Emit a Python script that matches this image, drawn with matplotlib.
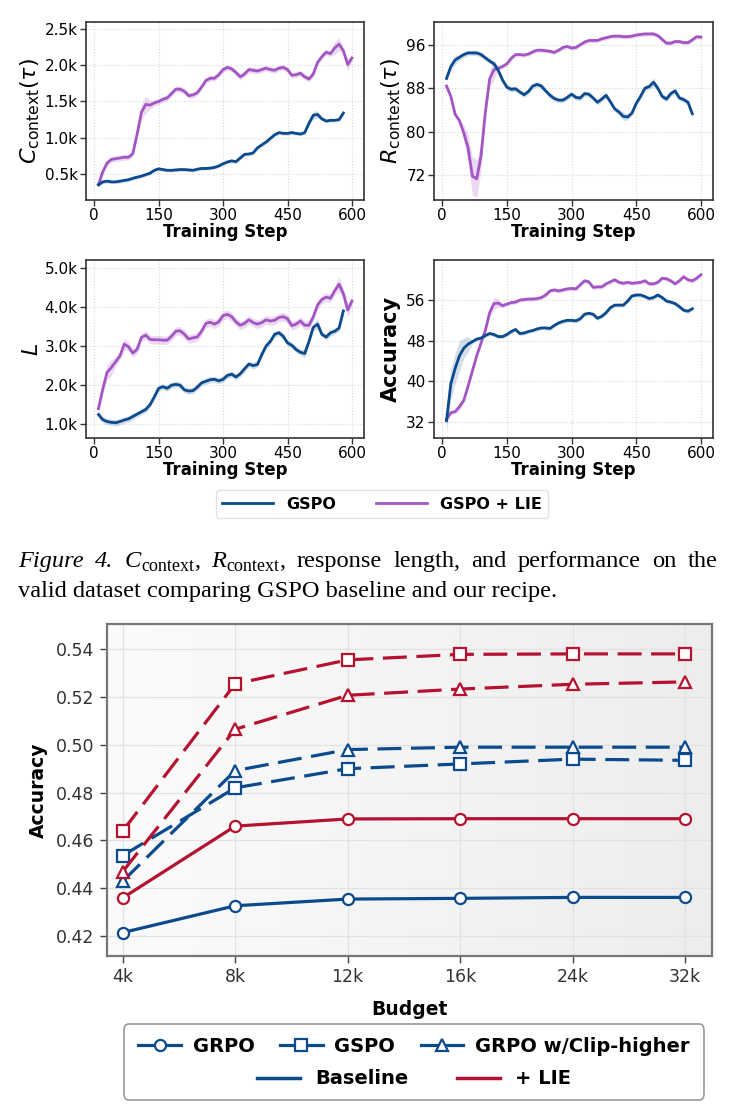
import numpy as np
import matplotlib
matplotlib.use("Agg")
import matplotlib.pyplot as plt
from matplotlib.lines import Line2D
from matplotlib.patches import FancyBboxPatch

BLUE = '#0b4a8c'
PURPLE = '#a455c4'
RED = '#b4122f'

# ---- top panels: training curves ----
steps_lie = np.arange(10, 610, 10)
steps_base = np.arange(10, 590, 10)

c_lie = [350, 530, 650, 700, 710, 720, 730, 730, 780, 1050,
         1350, 1460, 1450, 1480, 1500, 1530, 1550, 1610, 1670, 1670,
         1640, 1580, 1590, 1620, 1700, 1790, 1820, 1820, 1870, 1940,
         1970, 1950, 1900, 1840, 1880, 1940, 1930, 1920, 1940, 1960,
         1940, 1930, 1960, 1970, 1940, 1860, 1870, 1890, 1840, 1810,
         1880, 2040, 2120, 2180, 2160, 2240, 2290, 2200, 2010, 2100]
c_base = [350, 390, 400, 390, 390, 400, 410, 420, 440, 455,
          470, 490, 510, 550, 570, 560, 550, 550, 555, 560,
          560, 555, 550, 565, 575, 575, 580, 590, 610, 640,
          665, 680, 670, 720, 770, 775, 790, 860, 900, 940,
          990, 1040, 1070, 1060, 1060, 1070, 1060, 1050, 1070, 1200,
          1310, 1320, 1260, 1230, 1240, 1240, 1250, 1340]

r_lie = [88.4, 86.5, 83.2, 82.0, 79.8, 77.0, 71.8, 71.3, 75.5, 83.5,
         89.7, 91.4, 91.7, 92.0, 92.5, 93.5, 94.2, 94.2, 94.1, 94.3,
         94.7, 95.0, 95.0, 94.9, 94.8, 94.6, 95.0, 95.5, 95.7, 95.4,
         95.5, 96.0, 96.5, 96.8, 96.8, 96.8, 97.1, 97.3, 97.5, 97.6,
         97.6, 97.5, 97.5, 97.6, 97.8, 97.9, 98.0, 98.0, 98.0, 97.7,
         97.0, 96.3, 96.3, 96.6, 96.6, 96.4, 96.4, 96.9, 97.5, 97.4]
r_base = [89.8, 92.0, 93.2, 93.7, 94.2, 94.5, 94.5, 94.5, 94.2, 93.6,
          93.0, 92.5, 91.3, 89.5, 88.2, 87.8, 87.9, 87.3, 86.8, 87.4,
          88.4, 88.7, 88.4, 87.5, 86.7, 86.1, 85.8, 85.8, 86.3, 86.9,
          86.3, 86.2, 87.0, 86.9, 86.2, 85.4, 86.0, 86.7, 85.5, 84.2,
          83.6, 82.8, 82.7, 83.4, 85.2, 86.5, 88.0, 88.3, 89.1, 88.0,
          86.5, 86.0, 87.0, 87.5, 86.2, 85.9, 85.4, 83.3]

l_lie = [1400, 1900, 2330, 2450, 2600, 2750, 3050, 2980, 2820, 2920,
         3220, 3280, 3170, 3160, 3160, 3150, 3150, 3250, 3380, 3390,
         3300, 3180, 3210, 3230, 3380, 3580, 3610, 3560, 3620, 3780,
         3810, 3750, 3620, 3530, 3580, 3670, 3600, 3560, 3600, 3670,
         3640, 3660, 3730, 3750, 3700, 3520, 3560, 3640, 3530, 3530,
         3750, 4050, 4190, 4250, 4220, 4420, 4580, 4340, 3920, 4150]
l_base = [1250, 1120, 1070, 1050, 1040, 1070, 1110, 1140, 1200, 1260,
          1320, 1380, 1500, 1700, 1920, 1960, 1920, 2000, 2020, 2000,
          1880, 1850, 1860, 1950, 2060, 2100, 2140, 2150, 2110, 2150,
          2250, 2280, 2210, 2290, 2420, 2540, 2500, 2530, 2780, 3000,
          3120, 3300, 3340, 3250, 3080, 3020, 2910, 2840, 2810, 3120,
          3480, 3560, 3300, 3230, 3340, 3380, 3460, 3900]

acc_lie = [32.5, 33.8, 34.0, 35.0, 36.2, 39.0, 42.0, 45.0, 47.5, 50.0,
           53.5, 55.3, 55.4, 54.9, 55.2, 55.5, 55.6, 56.0, 56.1, 56.2,
           56.2, 56.3, 56.5, 57.0, 57.8, 58.0, 57.8, 58.0, 58.2, 58.3,
           58.2, 59.0, 59.8, 59.6, 58.5, 58.6, 58.6, 59.2, 59.6, 60.0,
           59.5, 59.3, 59.5, 59.3, 59.4, 59.5, 59.8, 59.2, 59.2, 59.5,
           60.3, 60.2, 59.8, 59.2, 59.8, 60.6, 60.0, 59.8, 60.3, 61.0]
acc_base = [32.2, 39.5, 42.5, 45.0, 46.5, 47.3, 47.8, 48.3, 48.5, 49.0,
            49.4, 49.2, 48.8, 48.8, 49.2, 49.8, 50.2, 49.4, 49.5, 49.8,
            50.0, 50.3, 50.5, 50.5, 50.4, 51.0, 51.5, 51.8, 52.0, 52.0,
            51.9, 52.3, 53.2, 53.4, 53.2, 52.4, 52.8, 53.5, 54.5, 55.0,
            55.0, 55.0, 55.8, 56.8, 57.0, 57.0, 56.7, 56.3, 56.5, 57.0,
            56.5, 55.8, 55.6, 55.3, 54.7, 54.0, 53.8, 54.3]

# shaded band half-widths (base value, plus wider spots keyed by step)
band_c = (40, {110: 110, 120: 120, 130: 60, 560: 90, 570: 90, 590: 90},
          25, {510: 60, 520: 50})
band_r = (0.4, {50: 1.5, 60: 2.5, 70: 3.5, 80: 3.5, 90: 2.5, 110: 1.5, 120: 1.8},
          0.5, {20: 0.8, 30: 0.8, 420: 0.8, 490: 0.8})
band_l = (110, {30: 200, 40: 200, 70: 150, 570: 200, 590: 180},
          80, {520: 140, 490: 110})
band_a = (0.4, {110: 0.9, 120: 1.2, 130: 0.8, 40: 0.8},
          0.4, {10: 2.5, 20: 3.0, 30: 3.0, 40: 3.0, 50: 2.0, 60: 1.5})


def band(steps, base, extra):
    return np.array([extra.get(int(s), base) for s in steps])


fig = plt.figure(figsize=(7.35, 11.18), dpi=100)
W, H = 735, 1118


def px_axes(l, t, r, b):
    return fig.add_axes([l / W, 1 - b / H, (r - l) / W, (b - t) / H])


panels = [
    ((86, 22, 364, 200), c_lie, c_base, band_c, (140, 2597),
     [500, 1000, 1500, 2000, 2500], ['0.5k', '1.0k', '1.5k', '2.0k', '2.5k'],
     r'$C_{\mathrm{context}}(\tau)$', False),
    ((434, 22, 713, 200), r_lie, r_base, band_r, (67.4, 100.2),
     [72, 80, 88, 96], ['72', '80', '88', '96'],
     r'$R_{\mathrm{context}}(\tau)$', False),
    ((86, 260, 364, 438), l_lie, l_base, band_l, (650, 5200),
     [1000, 2000, 3000, 4000, 5000], ['1.0k', '2.0k', '3.0k', '4.0k', '5.0k'],
     r'$L$', False),
    ((434, 260, 713, 438), acc_lie, acc_base, band_a, (28.8, 63.9),
     [32, 40, 48, 56], ['32', '40', '48', '56'],
     'Accuracy', True),
]

for box, ylie, ybase, bnd, ylim, yt, ytl, ylab, bold in panels:
    ax = px_axes(*box)
    blie = band(steps_lie, bnd[0], bnd[1])
    bbase = band(steps_base, bnd[2], bnd[3])
    ax.fill_between(steps_lie, np.array(ylie) - blie, np.array(ylie) + blie,
                    color=PURPLE, alpha=0.22, lw=0)
    ax.fill_between(steps_base, np.array(ybase) - bbase, np.array(ybase) + bbase,
                    color=BLUE, alpha=0.18, lw=0)
    ax.plot(steps_lie, ylie, color=PURPLE, lw=2)
    ax.plot(steps_base, ybase, color=BLUE, lw=2)
    ax.set_xlim(-19, 628)
    ax.set_ylim(*ylim)
    ax.set_xticks([0, 150, 300, 450, 600])
    ax.set_yticks(yt)
    ax.set_yticklabels(ytl)
    ax.tick_params(labelsize=11, length=4, width=1, color='#333333', pad=2)
    ax.grid(True, ls=':', color='#d8d8d8', lw=0.8)
    ax.set_axisbelow(True)
    for s in ax.spines.values():
        s.set_color('#333333')
        s.set_linewidth(1.2)
    ax.set_xlabel('Training Step', fontsize=12, fontweight='bold', labelpad=0)
    if bold:
        ax.set_ylabel(ylab, fontsize=15, fontweight='bold', labelpad=4)
    else:
        ax.set_ylabel(ylab, fontsize=16, labelpad=2)

top_handles = [Line2D([], [], color=BLUE, lw=2), Line2D([], [], color=PURPLE, lw=2)]
fig.legend(top_handles, ['GSPO', 'GSPO + LIE'], loc='center',
           bbox_to_anchor=(382 / W, 1 - 504 / H), ncol=2, frameon=True,
           prop={'weight': 'bold', 'size': 11.5}, handlelength=3.2,
           columnspacing=2.5, edgecolor='#dddddd', fancybox=True)

# ---- caption: first line justified, pieces = (text, style, size, drop, space after)
FS = 17.6
SUB = 13.0
cap_pieces = [
    ('Figure', 'italic', FS, 0, True), ('4.', 'italic', FS, 0, True),
    ('C', 'italic', FS, 0, False), ('context', 'normal', SUB, 4, False),
    (',', 'normal', FS, 0, True),
    ('R', 'italic', FS, 0, False), ('context', 'normal', SUB, 4, False),
    (',', 'normal', FS, 0, True),
    ('response', 'normal', FS, 0, True), ('length,', 'normal', FS, 0, True),
    ('and', 'normal', FS, 0, True), ('performance', 'normal', FS, 0, True),
    ('on', 'normal', FS, 0, True), ('the', 'normal', FS, 0, False),
]
renderer = fig.canvas.get_renderer()
base1 = 567
texts = []
for s, st, fs, drop, _ in cap_pieces:
    texts.append(fig.text(0, 1 - (base1 + drop) / H, s, family='Liberation Serif',
                          style=st, fontsize=fs, va='baseline', ha='left'))
widths = [t.get_window_extent(renderer).width for t in texts]
n_gaps = sum(1 for p in cap_pieces if p[4])
left, right = 18, 718
gap = (right - left - sum(widths)) / n_gaps
xpos = left
for t, w, p in zip(texts, widths, cap_pieces):
    t.set_x(xpos / W)
    xpos += w + (gap if p[4] else 0)
fig.text(18 / W, 1 - 597 / H,
         'valid dataset comparing GSPO baseline and our recipe.',
         family='Liberation Serif', fontsize=FS, va='baseline', ha='left')

# ---- bottom panel: accuracy vs budget ----
budgets = ['4k', '8k', '12k', '16k', '24k', '32k']
grpo_base = [0.4215, 0.4327, 0.4355, 0.4358, 0.4362, 0.4362]
grpo_lie = [0.4360, 0.4660, 0.4690, 0.4691, 0.4691, 0.4691]
gspo_base = [0.4537, 0.4820, 0.4900, 0.4920, 0.4940, 0.4935]
gspo_lie = [0.4640, 0.5255, 0.5355, 0.5378, 0.5380, 0.5380]
clip_base = [0.4430, 0.4892, 0.4980, 0.4990, 0.4990, 0.4990]
clip_lie = [0.4470, 0.5065, 0.5207, 0.5233, 0.5253, 0.5263]

ax = px_axes(107, 624, 712, 956)
x = np.arange(len(budgets))
grad = np.linspace(0, 1, 256).reshape(1, -1)
ax.imshow(grad, extent=[0, 1, 0, 1], transform=ax.transAxes, aspect='auto',
          cmap=matplotlib.colors.LinearSegmentedColormap.from_list(
              'bg', ['#fbfbfb', '#ededed']), zorder=0)

dash = (0, (7.5, 3))
series = [
    (grpo_base, BLUE, 'o', '-'), (grpo_lie, RED, 'o', '-'),
    (gspo_base, BLUE, 's', dash), (gspo_lie, RED, 's', dash),
    (clip_base, BLUE, '^', dash), (clip_lie, RED, '^', dash),
]
for y, c, m, ls in series:
    ax.plot(x, y, color=c, ls=ls, lw=2.3, marker=m, ms=8, mfc='white',
            mec=c, mew=1.6, zorder=3)

ax.set_xlim(-0.14, 5.24)
ax.set_ylim(0.4117, 0.5505)
ax.set_xticks(x)
ax.set_xticklabels(budgets)
ax.set_yticks([0.42, 0.44, 0.46, 0.48, 0.50, 0.52, 0.54])
ax.set_yticklabels(['0.42', '0.44', '0.46', '0.48', '0.50', '0.52', '0.54'])
ax.tick_params(labelsize=12.5, length=5, width=1, color='#444444',
               labelcolor='#333333', pad=4)
ax.grid(True, color='#e2e2e2', lw=0.9)
ax.set_axisbelow(True)
for s in ax.spines.values():
    s.set_color('#777777')
    s.set_linewidth(1.6)
ax.set_xlabel('Budget', fontsize=13.5, fontweight='bold', labelpad=10)
ax.set_ylabel('Accuracy', fontsize=13.5, fontweight='bold', labelpad=6)

# legend box plus two rows
fig.patches.append(FancyBboxPatch((124 / W, 1 - 1100 / H), 580 / W, 76 / H,
                                  boxstyle='round,pad=0,rounding_size=0.006',
                                  transform=fig.transFigure, fc='white',
                                  ec='#999999', lw=1.2))
mk_handles = [Line2D([], [], color=BLUE, lw=2.3, marker=m, ms=8, mfc='white',
                     mec=BLUE, mew=1.6) for m in ['o', 's', '^']]
fig.legend(mk_handles, ['GRPO', 'GSPO', 'GRPO w/Clip-higher'], loc='center',
           bbox_to_anchor=(414 / W, 1 - 1046 / H), ncol=3, frameon=False,
           prop={'weight': 'bold', 'size': 14}, handlelength=2.2,
           columnspacing=1.3, handletextpad=0.6)
col_handles = [Line2D([], [], color=BLUE, lw=2.5), Line2D([], [], color=RED, lw=2.5)]
fig.legend(col_handles, ['Baseline', '+ LIE'], loc='center',
           bbox_to_anchor=(414 / W, 1 - 1079 / H), ncol=2, frameon=False,
           prop={'weight': 'bold', 'size': 14}, handlelength=2.2,
           columnspacing=2.5, handletextpad=0.8)

fig.savefig('out.png', dpi=100)
